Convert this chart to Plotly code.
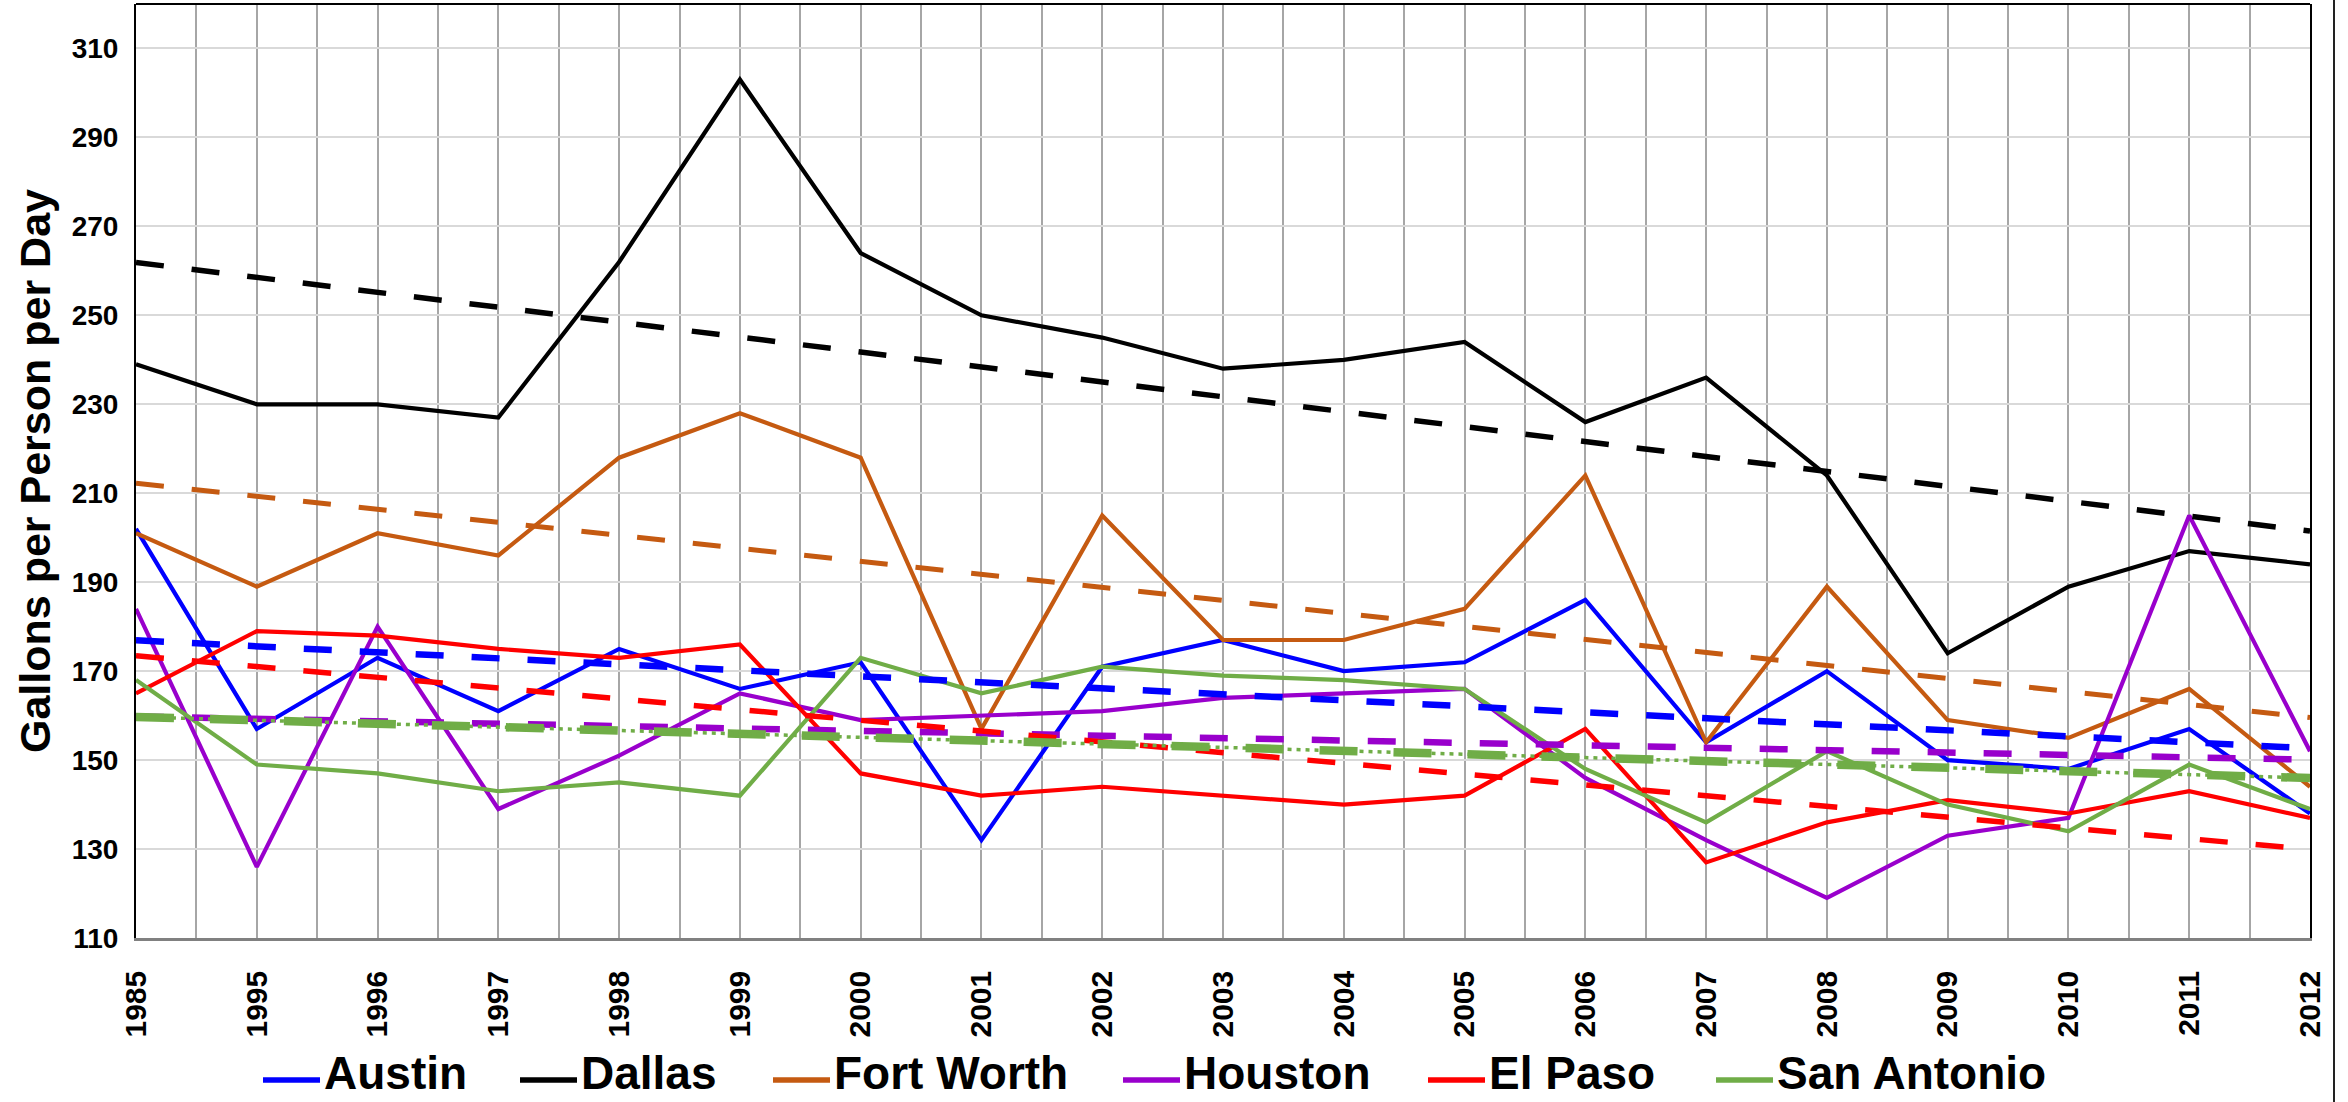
import numpy as np
import plotly.graph_objects as go

# ---------------- data ----------------
years = ["1985", "1995", "1996", "1997", "1998", "1999", "2000", "2001", "2002", "2003",
         "2004", "2005", "2006", "2007", "2008", "2009", "2010", "2011", "2012"]

austin      = [202, 157, 173, 161, 175, 166, 172, 132, 171, 177, 170, 172, 186, 154, 170, 150, 148, 157, 138]
dallas      = [239, 230, 230, 227, 262, 303, 264, 250, 245, 238, 240, 244, 226, 236, 214, 174, 189, 197, 194]
fort_worth  = [201, 189, 201, 196, 218, 228, 218, 157, 205, 177, 177, 184, 214, 154, 189, 159, 155, 166, 144]
houston     = [184, 126, 180, 139, 151, 165, 159, 160, 161, 164, 165, 166, 146, 132, 119, 133, 137, 205, 152]
el_paso     = [165, 179, 178, 175, 173, 176, 147, 142, 144, 142, 140, 142, 157, 127, 136, 141, 138, 143, 137]
san_antonio = [168, 149, 147, 143, 145, 142, 173, 165, 171, 169, 168, 166, 148, 136, 152, 140, 134, 149, 139]

series_names = ["Austin", "Dallas", "Fort Worth", "Houston", "El Paso", "San Antonio"]
series_values = [austin, dallas, fort_worth, houston, el_paso, san_antonio]
series_colors = ["#0000FF", "#000000", "#C55A11", "#9900CC", "#FF0000", "#70AD47"]

y_title = "Gallons per Person per Day"

# ---------------- styling / layout ----------------
W, H = 2348, 1102
L, R, T, B = 136, 38, 4, 164
PW, PH = W - L - R, H - T - B
FONT = "Liberation Sans, Arial, Helvetica, sans-serif"

def xp(p):
    return (p - L) / PW

def yp(p):
    return (H - B - p) / PH

# trendline styles: (width, dash)
trend_styles = [
    (6.5, "28px,28px"),   # Austin
    (5.5, "28px,28px"),   # Dallas
    (5, "28px,28px"),     # Fort Worth
    (6.5, "28px,28px"),   # Houston
    (5.5, "28px,28px"),   # El Paso
    (8.5, "38px,36px"),   # San Antonio
]

idx = list(range(len(years)))

fig = go.Figure()

# actual data lines
for name, vals, col in zip(series_names, series_values, series_colors):
    fig.add_trace(go.Scatter(x=idx, y=vals, mode="lines", name=name,
                             line=dict(color=col, width=4.2), showlegend=False))

# linear trendlines (least squares fit of each series)
for name, vals, col, (w, d) in zip(series_names, series_values, series_colors, trend_styles):
    coef = np.polyfit(idx, vals, 1)
    tx = [idx[0], idx[-1]]
    ty = list(np.polyval(coef, tx))
    fig.add_trace(go.Scatter(x=tx, y=ty, mode="lines", name=name + " trend",
                             line=dict(color=col, width=w, dash=d), showlegend=False,
                             hoverinfo="skip"))

# second (dotted) San Antonio trendline
coef = np.polyfit(idx, san_antonio, 1)
tx = [idx[0], idx[-1]]
fig.add_trace(go.Scatter(x=tx, y=list(np.polyval(coef, tx)), mode="lines",
                         line=dict(color="#70AD47", width=3.5, dash="4px,5px"),
                         showlegend=False, hoverinfo="skip"))

# ---------------- manual legend ----------------
legend_sym_x = [263, 520, 773, 1123, 1428, 1716]
legend_y = 1080
text_y = 1073
sym_len = 57
shapes = []
annotations = []
for name, col, sx in zip(series_names, series_colors, legend_sym_x):
    shapes.append(dict(type="line", xref="paper", yref="paper",
                       x0=xp(sx), x1=xp(sx + sym_len), y0=yp(legend_y), y1=yp(legend_y),
                       line=dict(color=col, width=5.5)))
    annotations.append(dict(text=name, xref="paper", yref="paper", x=xp(sx + sym_len + 2),
                            y=yp(text_y), xanchor="left", yanchor="middle", showarrow=False,
                            font=dict(family=FONT, size=46, color="black", weight="bold")))

# y-axis title (rotated)
annotations.append(dict(text=y_title, xref="paper", yref="paper", x=xp(35), y=0.5,
                        xanchor="center", yanchor="middle", textangle=-90, showarrow=False,
                        font=dict(family=FONT, size=43, color="black", weight="bold")))

# plot top border
shapes.append(dict(type="line", xref="paper", yref="paper", x0=0, x1=1, y0=1, y1=1,
                   line=dict(color="black", width=2)))
# outer chart border at right
shapes.append(dict(type="line", xref="paper", yref="paper", x0=xp(2334), x1=xp(2334),
                   y0=yp(H), y1=yp(0), line=dict(color="#222222", width=2)))

fig.update_layout(
    width=W, height=H,
    margin=dict(l=L, r=R, t=T, b=B, pad=0),
    paper_bgcolor="white", plot_bgcolor="white",
    font=dict(family=FONT, color="black"),
    shapes=shapes, annotations=annotations,
    showlegend=False,
    xaxis=dict(
        range=[idx[0], idx[-1]],
        tickmode="array", tickvals=idx, ticktext=years,
        tickangle=-90,
        tickfont=dict(family=FONT, size=30, color="black", weight="bold"),
        showgrid=True, gridcolor="#a6a6a6", gridwidth=1.5,
        minor=dict(tickmode="linear", tick0=0, dtick=0.5, showgrid=True,
                   gridcolor="#a6a6a6", gridwidth=1.5),
        showline=True, linecolor="#808080", linewidth=2.5,
        zeroline=False, ticks="", ticklabelstandoff=18,
    ),
    yaxis=dict(
        range=[110, 320],
        tickmode="linear", tick0=110, dtick=20,
        tickfont=dict(family=FONT, size=28, color="black", weight="bold"),
        showgrid=True, gridcolor="#d9d9d9", gridwidth=2,
        showline=True, linecolor="black", linewidth=2, mirror=True,
        zeroline=False, ticks="", ticklabelstandoff=10,
    ),
)

fig.write_html("out.html", config={"displayModeBar": False},
               post_script="document.body.style.margin='0';")
